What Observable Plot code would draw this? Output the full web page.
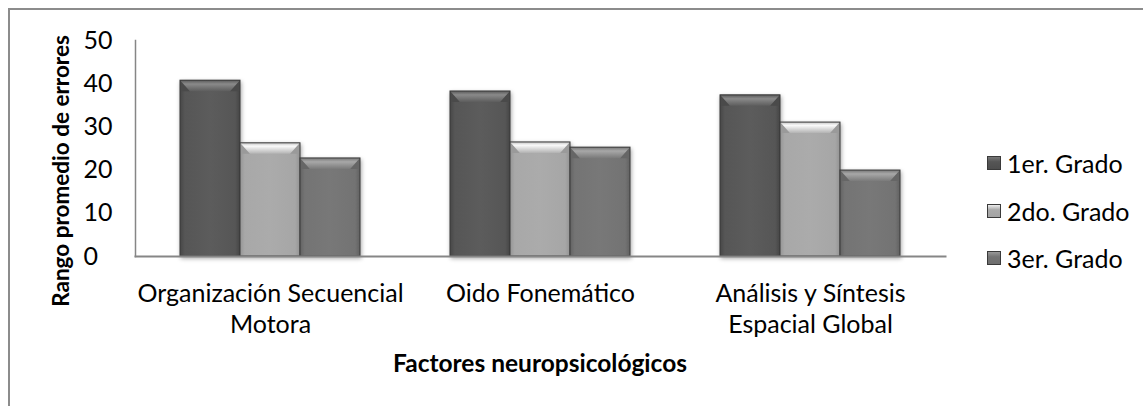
<!DOCTYPE html>
<html><head><meta charset="utf-8">
<script src="https://cdn.jsdelivr.net/npm/d3@7"></script>
<script src="https://cdn.jsdelivr.net/npm/@observablehq/plot@0.6"></script>
<style>
body{margin:0;background:#fff;}
#wrap{position:relative;width:1143px;height:406px;overflow:hidden;font-family:Lato, sans-serif;background:#fff;}
#border{position:absolute;left:8px;top:8px;width:1300px;height:600px;border:2px solid #8c8c8c;box-sizing:border-box;}
#chart{position:absolute;left:0;top:0;}
#legend{position:absolute;left:0;top:0;}
.item{position:absolute;display:flex;align-items:center;white-space:nowrap;font-size:25px;color:#000;line-height:1;}
.sw{width:14px;height:14px;margin-right:6px;box-sizing:border-box;border:1px solid #3a3a3a;}
</style></head>
<body>
<svg width="0" height="0" style="position:absolute">
<defs>
<linearGradient id="g1" x1="0" x2="1" y1="0" y2="0"><stop offset="0" stop-color="#474747"/><stop offset="0.08" stop-color="#565656"/><stop offset="0.5" stop-color="#5c5c5c"/><stop offset="0.92" stop-color="#565656"/><stop offset="1" stop-color="#454545"/></linearGradient>
<linearGradient id="g2" x1="0" x2="1" y1="0" y2="0"><stop offset="0" stop-color="#959595"/><stop offset="0.08" stop-color="#a8a8a8"/><stop offset="0.5" stop-color="#ababab"/><stop offset="0.92" stop-color="#a6a6a6"/><stop offset="1" stop-color="#939393"/></linearGradient>
<linearGradient id="g3" x1="0" x2="1" y1="0" y2="0"><stop offset="0" stop-color="#636363"/><stop offset="0.08" stop-color="#747474"/><stop offset="0.5" stop-color="#787878"/><stop offset="0.92" stop-color="#737373"/><stop offset="1" stop-color="#616161"/></linearGradient>
<linearGradient id="b1" x1="0" x2="0" y1="0" y2="1"><stop offset="0" stop-color="#5a5a5a"/><stop offset="0.35" stop-color="#8a8a8a"/><stop offset="1" stop-color="#5d5d5d"/></linearGradient>
<linearGradient id="b2" x1="0" x2="0" y1="0" y2="1"><stop offset="0" stop-color="#c4c4c4"/><stop offset="0.3" stop-color="#fafafa"/><stop offset="1" stop-color="#b2b2b2"/></linearGradient>
<linearGradient id="b3" x1="0" x2="0" y1="0" y2="1"><stop offset="0" stop-color="#767676"/><stop offset="0.35" stop-color="#a8a8a8"/><stop offset="1" stop-color="#7a7a7a"/></linearGradient>
</defs></svg>
<div id="wrap"><div id="border"></div><div id="chart"></div><div id="legend"></div></div>
<script>
const categories = ["Organización Secuencial Motora", "Oido Fonemático", "Análisis y Síntesis Espacial Global"];
const categoryLabels = ["Organización Secuencial\nMotora", "Oido Fonemático", "Análisis y Síntesis\nEspacial Global"];
const grades = ["1er. Grado", "2do. Grado", "3er. Grado"];
const grado1 = [40.7, 38.2, 37.3];
const grado2 = [26.2, 26.4, 31.0];
const grado3 = [22.7, 25.2, 19.9];
const yTicks = [0, 10, 20, 30, 40, 50];
const yTitle = "Rango promedio de errores";
const xTitle = "Factores neuropsicológicos";

const series = [grado1, grado2, grado3];
const data = [];
categories.forEach((c, ci) => grades.forEach((g, gi) => data.push({category: c, grade: g, value: series[gi][ci]})));

const fills = ["url(#g1)", "url(#g2)", "url(#g3)"];
const bevels = {"url(#g1)": "url(#b1)", "url(#g2)": "url(#b2)", "url(#g3)": "url(#b3)"};
const sides = {"url(#g1)": "#4a4a4a", "url(#g2)": "#9a9a9a", "url(#g3)": "#666666"};
const ns = "http://www.w3.org/2000/svg";

function poly(pts, fill) {
  const p = document.createElementNS(ns, "polygon");
  p.setAttribute("points", pts.map(q => q.join(",")).join(" "));
  p.setAttribute("fill", fill);
  p.setAttribute("stroke", "none");
  return p;
}

function bevel(index, scales, values, dimensions, context, next) {
  const g = next(index, scales, values, dimensions, context);
  g.style.filter = "drop-shadow(1px 2px 2px rgba(0,0,0,0.35))";
  const rects = Array.from(g.querySelectorAll("rect"));
  for (const r of rects) {
    const x = +r.getAttribute("x"), y = +r.getAttribute("y"), w = +r.getAttribute("width");
    const f = r.getAttribute("fill");
    const hb = 11, d = 10;
    const top = poly([[x, y], [x + w, y], [x + w - d, y + hb], [x + d, y + hb]], bevels[f] || "#888");
    const left = poly([[x, y], [x + d, y + hb], [x, y + hb]], sides[f] || "#555");
    const right = poly([[x + w, y], [x + w - d, y + hb], [x + w, y + hb]], sides[f] || "#555");
    const o = document.createElementNS(ns, "rect");
    for (const a of ["x", "y", "width", "height"]) o.setAttribute(a, r.getAttribute(a));
    o.setAttribute("fill", "none");
    o.setAttribute("stroke", "#3a3a3a");
    o.setAttribute("stroke-width", "1");
    r.after(left, right, top, o);
  }
  return g;
}

const chart = Plot.plot({
  width: 1143,
  height: 406,
  marginLeft: 135,
  marginRight: 198,
  marginTop: 40,
  marginBottom: 150,
  style: {fontFamily: "Lato, sans-serif", fontSize: "24px", color: "#000", background: "transparent", overflow: "visible"},
  fx: {domain: categories, paddingInner: 0, paddingOuter: 0, axis: null, label: null},
  x: {domain: grades, paddingInner: 0, paddingOuter: 0.74, axis: null},
  y: {domain: [0, 50], axis: null, label: null},
  color: {domain: grades, range: fills},
  marks: [
    Plot.barY(data, {fx: "category", x: "grade", y: "value", fill: "grade", render: bevel}),
    Plot.frame({anchor: "left", facet: "super", stroke: "#868686", strokeWidth: 1.5}),
    Plot.frame({anchor: "bottom", facet: "super", stroke: "#868686", strokeWidth: 2}),
    Plot.axisY({ticks: yTicks, tickSize: 0, tickPadding: 52, textAnchor: "start", fontSize: 25, label: null}),
    Plot.axisFx({anchor: "bottom", tickSize: 0, tickPadding: 24, fontSize: 25, lineHeight: 1.22,
      tickFormat: d => categoryLabels[categories.indexOf(d)], label: null})
  ]
});

const svg = d3.select(chart);
svg.append("text")
  .attr("transform", "translate(60,171) rotate(-90)")
  .attr("text-anchor", "middle").attr("dominant-baseline", "central")
  .attr("font-weight", "bold").attr("font-size", 22.5).attr("fill", "#000")
  .text(yTitle);
svg.append("text")
  .attr("x", 540).attr("y", 372)
  .attr("text-anchor", "middle")
  .attr("font-weight", "bold").attr("font-size", 24.5).attr("fill", "#000")
  .text(xTitle);

document.getElementById("chart").appendChild(chart);

const legendTops = [163, 211, 258];
const legend = document.getElementById("legend");
grades.forEach((g, i) => {
  const item = document.createElement("div");
  item.className = "item";
  item.style.left = "987px";
  item.style.top = (legendTops[i] - 12) + "px";
  item.style.height = "24px";
  const sw = document.createElement("span");
  sw.className = "sw";
  sw.style.background = ["linear-gradient(#777,#555 40%,#4d4d4d)", "linear-gradient(#eee,#aaa 40%,#a3a3a3)", "linear-gradient(#999,#747474 40%,#6e6e6e)"][i];
  const t = document.createElement("span");
  t.textContent = g;
  item.appendChild(sw); item.appendChild(t);
  legend.appendChild(item);
});
</script>
</body></html>
